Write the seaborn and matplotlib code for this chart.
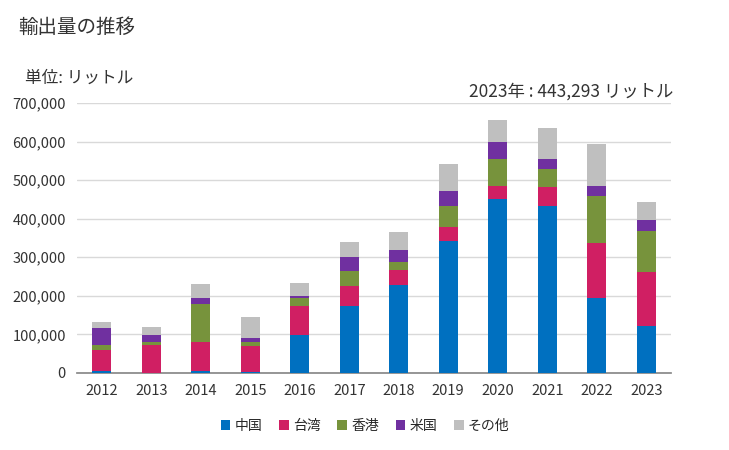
"""Export volume chart: stacked bars by destination."""

import matplotlib
matplotlib.use("Agg")
import matplotlib.pyplot as plt
import numpy as np
import pandas as pd
import seaborn as sns
from matplotlib.patches import Patch

years = ["2012", "2013", "2014", "2015", "2016", "2017", "2018",
         "2019", "2020", "2021", "2022", "2023"]
china = [5000, 0, 5000, 3000, 98000, 173000, 228000, 341000, 450000, 434000, 195000, 122000]
taiwan = [55000, 72000, 75000, 67000, 75000, 52000, 38000, 37000, 36000, 47000, 141000, 139000]
hongkong = [12000, 8000, 98000, 10000, 21000, 39000, 21000, 56000, 70000, 49000, 122000, 106000]
usa = [44000, 18000, 16000, 10500, 5000, 36000, 31000, 39000, 44000, 26000, 28000, 29000]
other = [16000, 21000, 36000, 54500, 34000, 39000, 47000, 68000, 57000, 78000, 109000, 47293]

series_names = ["中国", "台湾", "香港", "米国", "その他"]
colors = ["#0070C0", "#D01F63", "#77933C", "#7030A0", "#BFBFBF"]

sns.set_theme(style="white")
plt.rcParams["font.family"] = ["Noto Sans CJK JP", "DejaVu Sans"]

df = pd.DataFrame({"year": years})
cum = np.zeros(len(years))
for name, vals in zip(series_names, [china, taiwan, hongkong, usa, other]):
    cum = cum + np.array(vals)
    df[name] = cum.copy()

fig = plt.figure(figsize=(7.29, 4.5), dpi=100)
ax = fig.add_axes([77 / 729, 1 - 373 / 450, 594 / 729, 270 / 450])

# draw cumulative totals from the top layer down so lower layers overlay
for name, color in reversed(list(zip(series_names, colors))):
    sns.barplot(data=df, x="year", y=name, color=color, width=0.38,
                saturation=1, linewidth=0, edgecolor="none", ax=ax, zorder=3)

ax.set_ylim(0, 700000)
ax.set_xlim(-0.5, 11.5)
ax.set_yticks(range(0, 700001, 100000))
ax.yaxis.set_major_formatter(matplotlib.ticker.FuncFormatter(lambda v, p: f"{int(v):,}"))
ax.grid(axis="y", color="#D9D9D9", linewidth=1, zorder=0)
ax.set_axisbelow(True)
ax.set_xlabel("")
ax.set_ylabel("")
for s in ["top", "right", "left"]:
    ax.spines[s].set_visible(False)
ax.spines["bottom"].set_color("#898989")
ax.tick_params(axis="both", length=0, labelsize=10.5, colors="#333333", pad=8)

fig.text(18 / 729, 1 - 27 / 450, "輸出量の推移", fontsize=14, va="center", color="#333333")
fig.text(25 / 729, 1 - 78 / 450, "単位: リットル", fontsize=12, va="center", color="#333333")
fig.text(673 / 729, 1 - 92 / 450, "2023年 : 443,293 リットル", fontsize=12.5,
         va="center", ha="right", color="#333333")

handles = [Patch(facecolor=c, edgecolor="none") for c in colors]
fig.legend(handles, series_names, loc="center", bbox_to_anchor=(365 / 729, 1 - 426 / 450),
           ncol=5, frameon=False, fontsize=10, handlelength=0.7, handleheight=0.7,
           handletextpad=0.3, columnspacing=1.2)

fig.savefig("out.png", dpi=100)
